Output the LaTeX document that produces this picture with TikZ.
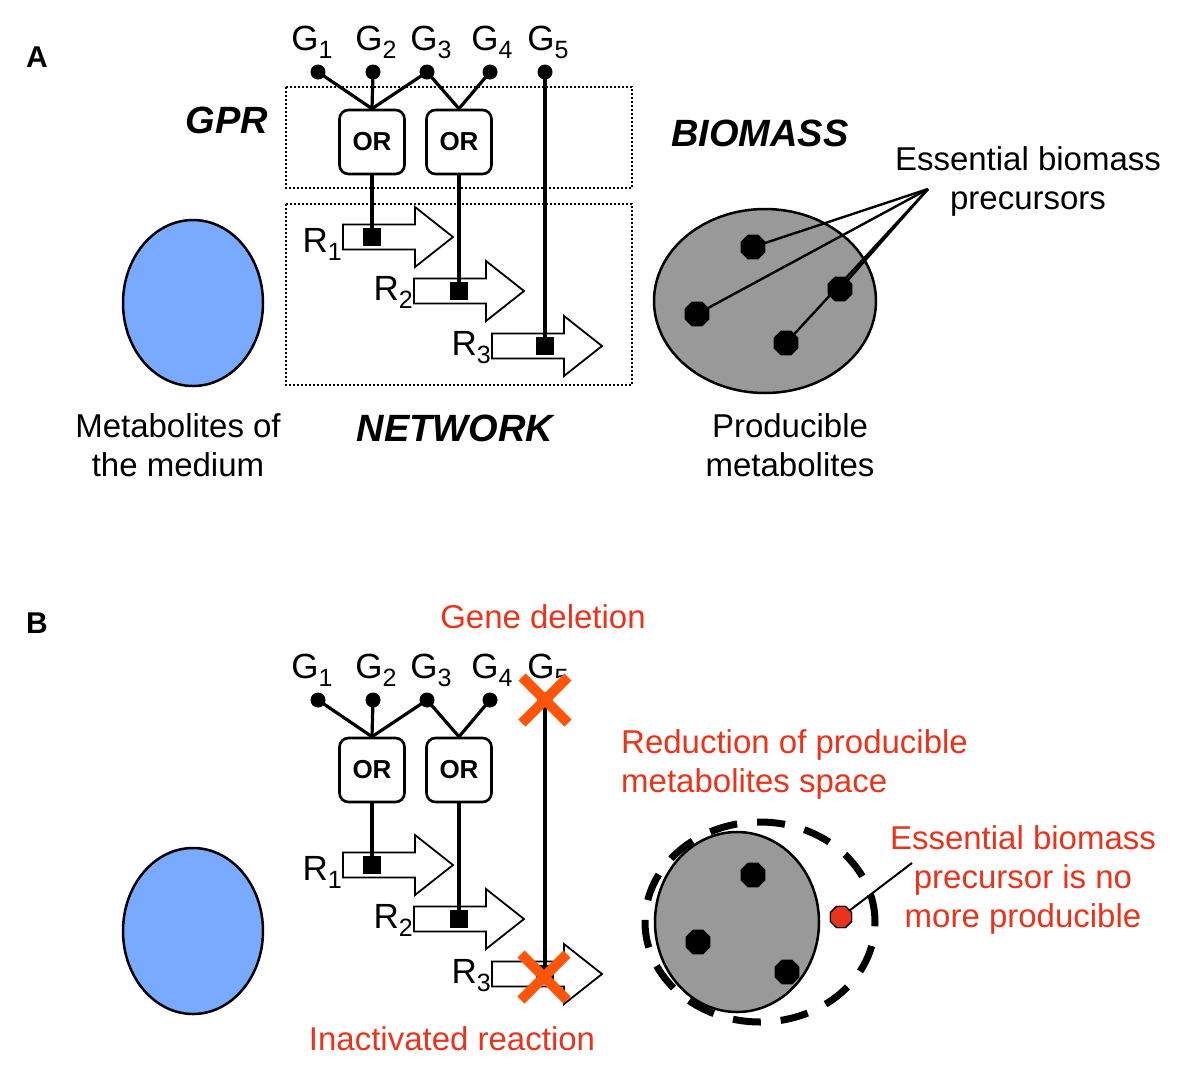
\documentclass[tikz,border=0pt]{standalone}
\usepackage{fontspec}
\setmainfont{Liberation Sans}
\usepackage{tikz}
\usetikzlibrary{shapes.geometric, positioning}
\definecolor{medblue}{RGB}{122,170,255}
\definecolor{biogray}{RGB}{153,153,153}
\definecolor{delred}{RGB}{232,52,28}
\definecolor{crossorange}{RGB}{255,85,10}

\newcommand{\gsub}[1]{\raisebox{-8pt}{\fontsize{25}{25}\selectfont #1}}
% reaction arrow: name, tail x, middle y
\newcommand{\rxnarrow}[3]{%
	\draw[rxn] (#2,#3-12.5) -- (#2+72,#3-12.5) -- (#2+72,#3-30) -- (#2+110,#3)
		-- (#2+72,#3+30) -- (#2+72,#3+12.5) -- (#2,#3+12.5) -- cycle;
	\coordinate (#1) at (#2,#3);}

\begin{document}
\begin{tikzpicture}[x=1pt, y=-1pt,
		gene/.style={circle, fill=black, inner sep=0pt, minimum size=15pt},
		glabel/.style={inner sep=0pt, font=\fontsize{35}{35}\selectfont},
		orbox/.style={draw, line width=2.6pt, rounded corners=9pt, minimum width=65pt, minimum height=64pt, inner sep=0pt, font=\bfseries\fontsize{26}{26}\selectfont},
		wire/.style={line width=3.2pt},
		rxn/.style={draw, line width=1.8pt, fill=white, line join=miter},
		site/.style={rectangle, fill=black, minimum size=18pt, inner sep=0pt},
		metab/.style={regular polygon, regular polygon sides=8, fill=black, minimum size=27pt, inner sep=0pt},
		txt/.style={inner sep=0pt, align=center, font=\fontsize{33}{39}\selectfont},
		tag/.style={inner sep=0pt, font=\bfseries\itshape\fontsize{38}{38}\selectfont},
		panel/.style={inner sep=0pt, font=\bfseries\fontsize{30}{30}\selectfont},
		zone/.style={draw, dotted, line width=2pt},
		pointer/.style={line width=2.4pt},
		cross/.style={crossorange, line width=10pt}]
	\useasboundingbox (0,0) rectangle (1200,1088);

	% parts shared by both panels
	\foreach \p/\dy in {a/0, b/628}{
		\draw[fill=medblue, line width=2.5pt] (193,303+\dy) ellipse [x radius=70pt, y radius=83pt];
		% genes
		\foreach \i/\x/\lx in {1/318/312, 2/373/376, 3/427/431, 4/490/492, 5/545/548}{
			\node[gene] (g\i\p) at (\x,72+\dy) {};
			\node[glabel, anchor=base] (gl\i\p) at (\lx,50+\dy) {G\gsub{\i}};
		}
		\node[orbox] (or1\p) at (372,142+\dy) {OR};
		\node[orbox] (or2\p) at (459,142+\dy) {OR};
		% reactions
		\foreach \j/\x/\y/\sx/\ly in {1/343/237/372/15, 2/414/291/459/9, 3/492/346/545/9}{
			\rxnarrow{r\j\p}{\x}{\y+\dy}
			\node[site] (s\j\p) at (\sx,\y+\dy) {};
			\node[glabel, anchor=base east] (rl\j\p) at ([shift={(-1,\ly)}]r\j\p) {R\gsub{\j}};
		}
		% gene-protein-reaction wires
		\draw[wire] (g1\p.center) -- (or1\p.north);
		\draw[wire] (g2\p.center) -- (or1\p.north);
		\draw[wire] (g3\p.center) -- (or1\p.north);
		\draw[wire] (g3\p.center) -- (or2\p.north);
		\draw[wire] (g4\p.center) -- (or2\p.north);
		\draw[wire] (or1\p) -- (s1\p.center);
		\draw[wire] (or2\p) -- (s2\p.center);
		\draw[wire] (g5\p.center) -- (s3\p.center);
	}

	% panel A
	\node[panel] (pa) at (37,57) {A};
	\draw[zone] (286,87) rectangle (632,188);
	\draw[zone] (286,204) rectangle (632,385);
	\node[tag] (gpr) at (227,120) {GPR};
	\node[tag] (net) at (455,428) {NETWORK};
	\node[tag] (bio) at (760,133) {BIOMASS};
	\node[txt] (medtxt) at (178,445) {Metabolites of\\the medium};
	\node[txt] (prodtxt) at (790,445) {Producible\\metabolites};
	\node[txt] (esstxt) at (1028,181) {Essential biomass\\precursors};
	\draw[fill=biogray, line width=2.5pt] (765,301) ellipse [x radius=111pt, y radius=92pt];
	\foreach \k/\x/\y in {1/753/247, 2/697/314, 3/840/289, 4/786/343}{
		\node[metab] (m\k) at (\x,\y) {};
	}
	\coordinate (hub) at (928,189);
	\foreach \k in {1,...,4}{
		\draw[pointer] (hub) -- (m\k.center);
	}

	% panel B
	\node[panel] (pb) at (37,623) {B};
	\draw[fill=biogray, line width=2.5pt] (737,922) ellipse [x radius=82pt, y radius=90pt];
	\draw[line width=7pt, dash pattern=on 28pt off 20pt] (760,922) ellipse [x radius=115pt, y radius=100pt];
	\foreach \k/\x/\y in {1/753/875, 2/698/942, 3/787/972}{
		\node[metab] (n\k) at (\x,\y) {};
	}
	\node[metab, fill=delred, draw=black, line width=1.2pt, minimum size=23pt] (lost) at (841,917) {};
	\coordinate (losttip) at (912,863);
	\draw[pointer, line width=2pt] (lost.center) -- (losttip);
	\node[metab, fill=delred, draw=black, line width=1.2pt, minimum size=23pt] at (841,917) {};
	% deletions
	\draw[cross] (g5b) ++(-23,-23) -- ++(46,46) ++(0,-46) -- ++(-46,46);
	\draw[cross] (544,977) ++(-23,-23) -- ++(46,46) ++(0,-46) -- ++(-46,46);
	\node[txt, text=delred] (deltxt) at (543,617) {Gene deletion};
	\node[txt, text=delred] (inacttxt) at (452,1039) {Inactivated reaction};
	\node[txt, text=delred, anchor=west, align=left] (redtxt) at (621,764) {Reduction of producible\\metabolites space};
	\node[txt, text=delred] (losttxt) at (1023,880) {Essential biomass\\precursor is no\\more producible};
\end{tikzpicture}
\end{document}
